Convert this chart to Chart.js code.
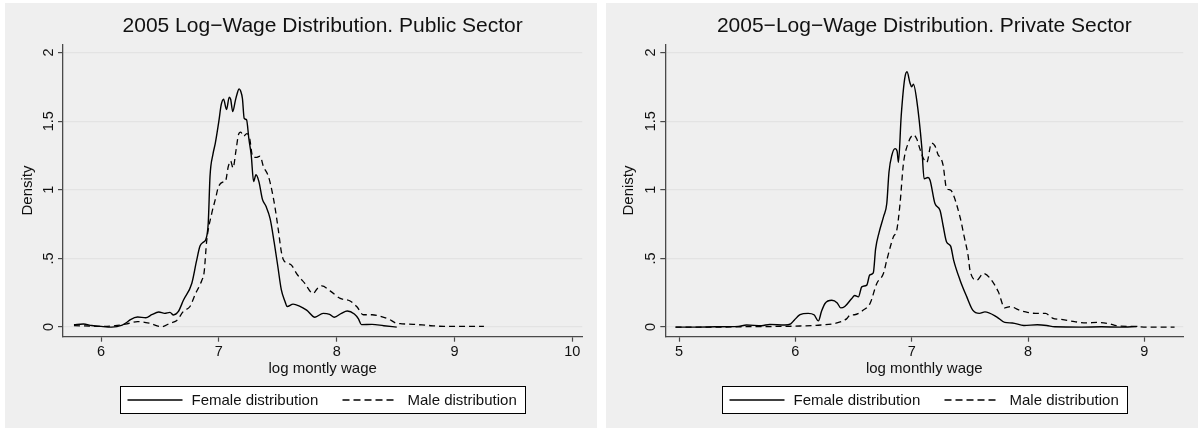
<!DOCTYPE html>
<html>
<head>
<meta charset="utf-8">
<script src="https://cdn.jsdelivr.net/npm/chart.js@4.4.1/dist/chart.umd.min.js"></script>
<style>
  html, body { margin: 0; padding: 0; background: #ffffff; }
  body { width: 1204px; height: 432px; position: relative; overflow: hidden; }
  .panel { position: absolute; top: 3px; width: 592px; height: 425px; background: #efefef; }
  .panel canvas { display: block; }
</style>
</head>
<body>
<div class="panel" style="left:5px"><canvas id="publicChart" width="592" height="425"></canvas></div>
<div class="panel" style="left:606px"><canvas id="privateChart" width="592" height="425"></canvas></div>
<script>
// Kernel density estimates of 2005 log monthly wages, by sector and sex.

// Public sector, female
const pubFemaleWage = [5.77, 5.85, 5.92, 6.00, 6.09, 6.18, 6.22, 6.25, 6.31, 6.38, 6.43, 6.49, 6.54, 6.585, 6.615, 6.655, 6.70, 6.77, 6.81, 6.84, 6.87, 6.89, 6.91, 6.925, 6.95, 6.97, 7.00, 7.02, 7.04, 7.065, 7.088, 7.10, 7.118, 7.14, 7.155, 7.172, 7.185, 7.20, 7.215, 7.235, 7.255, 7.275, 7.295, 7.315, 7.34, 7.37, 7.40, 7.435, 7.47, 7.50, 7.53, 7.56, 7.58, 7.63, 7.68, 7.745, 7.815, 7.885, 7.94, 7.98, 8.04, 8.09, 8.15, 8.185, 8.21, 8.30, 8.40, 8.51];
const pubFemaleDensity = [0.017, 0.022, 0.012, 0.005, 0.0, 0.015, 0.035, 0.055, 0.073, 0.068, 0.09, 0.11, 0.10, 0.107, 0.088, 0.112, 0.197, 0.318, 0.48, 0.59, 0.62, 0.64, 0.76, 1.10, 1.26, 1.34, 1.50, 1.62, 1.66, 1.585, 1.675, 1.66, 1.57, 1.65, 1.70, 1.735, 1.72, 1.665, 1.52, 1.51, 1.37, 1.25, 1.06, 1.11, 1.06, 0.93, 0.88, 0.79, 0.615, 0.445, 0.273, 0.19, 0.15, 0.167, 0.155, 0.124, 0.072, 0.10, 0.093, 0.072, 0.10, 0.117, 0.095, 0.06, 0.018, 0.02, 0.01, 0.0];

// Public sector, male
const pubMaleWage = [5.77, 5.90, 6.00, 6.12, 6.22, 6.31, 6.41, 6.515, 6.59, 6.64, 6.70, 6.755, 6.80, 6.855, 6.875, 6.897, 6.94, 6.97, 6.996, 7.03, 7.055, 7.08, 7.10, 7.12, 7.146, 7.166, 7.186, 7.21, 7.237, 7.259, 7.288, 7.316, 7.35, 7.378, 7.42, 7.449, 7.475, 7.505, 7.53, 7.548, 7.585, 7.618, 7.66, 7.73, 7.80, 7.835, 7.874, 7.944, 8.03, 8.11, 8.17, 8.227, 8.30, 8.37, 8.45, 8.50, 8.555, 8.65, 8.78, 8.91, 9.04, 9.25];
const pubMaleDensity = [0.01, 0.008, 0.005, 0.01, 0.024, 0.04, 0.028, 0.003, 0.03, 0.046, 0.115, 0.15, 0.24, 0.34, 0.40, 0.63, 0.83, 0.93, 1.02, 1.055, 1.06, 1.17, 1.21, 1.16, 1.29, 1.40, 1.42, 1.39, 1.41, 1.386, 1.24, 1.236, 1.245, 1.17, 1.10, 1.00, 0.88, 0.706, 0.55, 0.49, 0.465, 0.45, 0.39, 0.318, 0.245, 0.28, 0.30, 0.264, 0.209, 0.192, 0.15, 0.09, 0.09, 0.078, 0.055, 0.03, 0.024, 0.02, 0.012, 0.005, 0.005, 0.005];

// Private sector, female
const privFemaleWage = [4.97, 5.15, 5.31, 5.51, 5.58, 5.71, 5.78, 5.91, 5.96, 5.99, 6.04, 6.11, 6.16, 6.198, 6.225, 6.255, 6.313, 6.36, 6.39, 6.425, 6.485, 6.51, 6.542, 6.571, 6.614, 6.64, 6.67, 6.69, 6.72, 6.76, 6.786, 6.805, 6.829, 6.857, 6.875, 6.886, 6.91, 6.94, 6.96, 6.985, 7.00, 7.015, 7.044, 7.087, 7.107, 7.14, 7.158, 7.20, 7.244, 7.27, 7.30, 7.335, 7.36, 7.416, 7.474, 7.525, 7.582, 7.63, 7.73, 7.80, 7.865, 7.965, 8.08, 8.16, 8.23, 8.46, 8.63, 8.79, 8.94];
const privFemaleDensity = [0.0, 0.0, 0.002, 0.005, 0.015, 0.01, 0.02, 0.015, 0.024, 0.05, 0.09, 0.10, 0.09, 0.045, 0.115, 0.172, 0.195, 0.176, 0.14, 0.15, 0.209, 0.23, 0.22, 0.293, 0.306, 0.38, 0.395, 0.57, 0.69, 0.81, 0.90, 1.13, 1.25, 1.30, 1.28, 1.20, 1.54, 1.81, 1.86, 1.78, 1.75, 1.77, 1.65, 1.31, 1.08, 1.09, 1.07, 0.90, 0.85, 0.74, 0.62, 0.59, 0.49, 0.342, 0.22, 0.124, 0.10, 0.111, 0.075, 0.034, 0.03, 0.012, 0.017, 0.012, 0.002, 0.0, 0.002, 0.0, 0.005];

// Private sector, male
const privMaleWage = [4.97, 5.31, 5.65, 5.897, 6.04, 6.18, 6.356, 6.44, 6.47, 6.51, 6.585, 6.642, 6.70, 6.757, 6.786, 6.843, 6.872, 6.90, 6.929, 6.97, 7.015, 7.044, 7.07, 7.10, 7.13, 7.17, 7.20, 7.23, 7.244, 7.27, 7.30, 7.33, 7.35, 7.416, 7.45, 7.485, 7.502, 7.56, 7.616, 7.67, 7.745, 7.80, 7.85, 7.915, 7.98, 8.065, 8.15, 8.21, 8.30, 8.40, 8.50, 8.60, 8.70, 8.76, 8.89, 9.02, 9.26];
const privMaleDensity = [0.0, 0.0, 0.004, 0.005, 0.008, 0.013, 0.03, 0.06, 0.087, 0.09, 0.124, 0.172, 0.318, 0.39, 0.488, 0.658, 0.706, 0.90, 1.19, 1.34, 1.40, 1.37, 1.30, 1.23, 1.20, 1.34, 1.32, 1.25, 1.24, 1.18, 1.01, 1.00, 0.98, 0.80, 0.665, 0.52, 0.41, 0.342, 0.39, 0.36, 0.257, 0.14, 0.15, 0.127, 0.11, 0.10, 0.10, 0.066, 0.054, 0.04, 0.03, 0.034, 0.024, 0.01, 0.005, 0.0, 0.0];

// Axis tick values
const densityTicks = [0, 0.5, 1, 1.5, 2];
const publicWageTicks = [6, 7, 8, 9, 10];
const privateWageTicks = [5, 6, 7, 8, 9];

const FONT = '"Liberation Sans", Arial, Helvetica, sans-serif';
const INK = '#111111';
const AXIS = '#4a4a4a';

function pairs(xs, ys) {
  return xs.map((x, i) => ({ x: x, y: ys[i] }));
}

function densityLabel(v) {
  if (v === 0) return '0';
  return String(v).replace(/^0\./, '.');
}

// Boxed legend under the x-axis title, centred on the plot region
const boxLegend = {
  id: 'boxLegend',
  afterDraw(chart, args, opts) {
    const { ctx, chartArea } = chart;
    const w = opts.width, h = opts.height;
    const left = Math.round((chartArea.left + chartArea.right) / 2 - w / 2) + 0.5;
    const top = opts.top + 0.5;
    ctx.save();
    ctx.fillStyle = '#ffffff';
    ctx.fillRect(left, top, w, h);
    ctx.strokeStyle = '#000000';
    ctx.lineWidth = 1;
    ctx.strokeRect(left, top, w, h);
    const cy = top + h / 2;
    chart.data.datasets.forEach((ds, i) => {
      const item = opts.items[i];
      ctx.beginPath();
      ctx.setLineDash(item.dash);
      ctx.lineWidth = ds.borderWidth;
      ctx.strokeStyle = ds.borderColor;
      ctx.moveTo(left + item.lineStart, cy);
      ctx.lineTo(left + item.lineEnd, cy);
      ctx.stroke();
      ctx.setLineDash([]);
      ctx.fillStyle = INK;
      ctx.font = '15px ' + FONT;
      ctx.textBaseline = 'middle';
      ctx.textAlign = 'left';
      ctx.fillText(ds.label, left + item.textStart, cy + 0.5);
    });
    ctx.restore();
  }
};

function makeChart(canvasId, cfg) {
  return new Chart(document.getElementById(canvasId), {
    type: 'line',
    data: {
      datasets: [
        {
          label: 'Female distribution',
          data: pairs(cfg.femaleWage, cfg.femaleDensity),
          borderColor: '#000000',
          borderWidth: 1.4,
          pointRadius: 0,
          fill: false,
          cubicInterpolationMode: 'monotone'
        },
        {
          label: 'Male distribution',
          data: pairs(cfg.maleWage, cfg.maleDensity),
          borderColor: '#000000',
          borderWidth: 1.3,
          borderDash: [6, 4],
          pointRadius: 0,
          fill: false,
          cubicInterpolationMode: 'monotone'
        }
      ]
    },
    options: {
      responsive: false,
      animation: false,
      devicePixelRatio: 1,
      layout: { padding: { left: 0, right: cfg.padRight, top: 0, bottom: 0 } },
      plugins: {
        legend: { display: false },
        tooltip: { enabled: false },
        title: {
          display: true,
          text: cfg.title,
          fullSize: false,
          color: INK,
          font: { family: FONT, size: 21, weight: 'normal', lineHeight: 1.2 },
          padding: { top: 10.4, bottom: 5.7 }
        },
        boxLegend: {
          width: 405,
          height: 27,
          top: 383,
          items: [
            { lineStart: 7, lineEnd: 62, textStart: 71, dash: [] },
            { lineStart: 222, lineEnd: 273, textStart: 287, dash: [7, 4] }
          ]
        }
      },
      scales: {
        x: {
          type: 'linear',
          min: cfg.xMin,
          max: cfg.xMax,
          afterFit: (s) => { s.height = 91.3; },
          afterBuildTicks: (s) => { s.ticks = cfg.xTicks.map(v => ({ value: v })); },
          ticks: {
            includeBounds: false,
            stepSize: 1,
            color: INK,
            padding: 2,
            font: { family: FONT, size: 14.5 },
            maxRotation: 0
          },
          grid: {
            drawOnChartArea: false,
            drawTicks: true,
            tickLength: 5,
            tickColor: AXIS,
            tickWidth: 1.2
          },
          border: { display: true, color: AXIS, width: 1.3 },
          title: {
            display: true,
            text: cfg.xTitle,
            color: INK,
            font: { family: FONT, size: 15 },
            padding: { top: 0, bottom: 50 }
          }
        },
        y: {
          type: 'linear',
          min: -0.07,
          max: 2.06,
          afterFit: (s) => { s.width = cfg.yWidth; },
          afterBuildTicks: (s) => { s.ticks = densityTicks.map(v => ({ value: v })); },
          ticks: {
            includeBounds: false,
            stepSize: 0.5,
            color: INK,
            padding: -1,
            crossAlign: 'center',
            minRotation: 90,
            maxRotation: 90,
            font: { family: FONT, size: 14.5 },
            callback: (v) => densityLabel(v)
          },
          grid: {
            color: '#e3e3e3',
            lineWidth: 1.2,
            drawTicks: true,
            tickLength: 5,
            tickColor: AXIS,
            tickWidth: 1.2
          },
          border: { display: true, color: AXIS, width: 1.3 },
          title: {
            display: true,
            text: cfg.yTitle,
            color: INK,
            font: { family: FONT, size: 15 },
            padding: { top: 14, bottom: 0 }
          }
        }
      }
    },
    plugins: [boxLegend]
  });
}

makeChart('publicChart', {
  title: '2005 Log\u2212Wage Distribution. Public Sector',
  xTitle: 'log montly wage',
  yTitle: 'Density',
  femaleWage: pubFemaleWage, femaleDensity: pubFemaleDensity,
  maleWage: pubMaleWage, maleDensity: pubMaleDensity,
  xMin: 5.677, xMax: 10.085, xTicks: publicWageTicks,
  yWidth: 58, padRight: 14.7
});

makeChart('privateChart', {
  title: '2005\u2212Log\u2212Wage Distribution. Private Sector',
  xTitle: 'log monthly wage',
  yTitle: 'Denisty',
  femaleWage: privFemaleWage, femaleDensity: privFemaleDensity,
  maleWage: privMaleWage, maleDensity: privMaleDensity,
  xMin: 4.882, xMax: 9.335, xTicks: privateWageTicks,
  yWidth: 59.3, padRight: 14.7
});
</script>
</body>
</html>
